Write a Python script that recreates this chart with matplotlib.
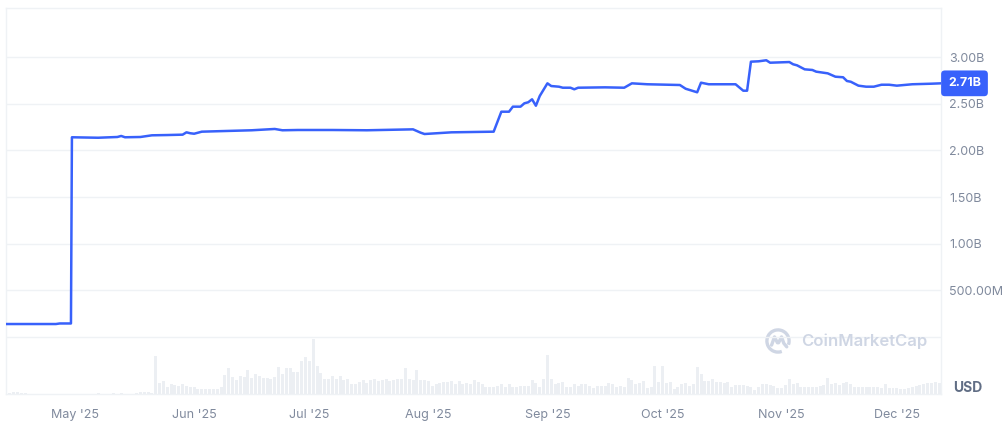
import numpy as np
import pandas as pd
import matplotlib
matplotlib.use("Agg")
import matplotlib.pyplot as plt
import matplotlib.dates as mdates
import matplotlib.transforms as mtransforms
from matplotlib.patches import Arc

plt.rcParams['font.family'] = ['Inter', 'DejaVu Sans']

########################
# Data (market cap in billions USD, daily volume in relative units)
########################

price_dates = [
    "2025-04-13", "2025-04-26", "2025-04-27", "2025-04-29 22:00", "2025-04-30 04:00",
    "2025-05-07", "2025-05-12", "2025-05-13", "2025-05-14", "2025-05-18", "2025-05-21",
    "2025-05-25", "2025-05-29", "2025-05-30", "2025-05-31", "2025-06-01", "2025-06-03",
    "2025-06-09", "2025-06-16", "2025-06-22", "2025-06-24", "2025-06-28", "2025-07-07",
    "2025-07-16", "2025-07-28", "2025-07-30", "2025-07-31", "2025-08-07", "2025-08-18",
    "2025-08-20", "2025-08-22", "2025-08-23", "2025-08-25", "2025-08-26", "2025-08-27",
    "2025-08-28", "2025-08-29", "2025-08-30", "2025-09-01", "2025-09-02", "2025-09-04",
    "2025-09-05", "2025-09-07", "2025-09-08", "2025-09-09", "2025-09-16", "2025-09-21",
    "2025-09-23", "2025-09-27", "2025-10-05 12:00", "2025-10-07", "2025-10-10", "2025-10-11",
    "2025-10-13", "2025-10-20", "2025-10-22", "2025-10-23", "2025-10-24", "2025-10-26",
    "2025-10-28", "2025-10-29", "2025-11-03", "2025-11-04", "2025-11-05", "2025-11-07",
    "2025-11-09", "2025-11-10", "2025-11-13", "2025-11-15", "2025-11-17", "2025-11-18",
    "2025-11-19", "2025-11-21", "2025-11-23", "2025-11-25", "2025-11-27", "2025-11-29",
    "2025-12-01", "2025-12-05", "2025-12-10", "2025-12-12 12:00",
]
price_vals = [
    0.139, 0.139, 0.145, 0.145, 2.140,
    2.135, 2.143, 2.154, 2.140, 2.143, 2.161,
    2.164, 2.168, 2.193, 2.183, 2.178, 2.200,
    2.207, 2.215, 2.229, 2.215, 2.218, 2.218,
    2.215, 2.225, 2.189, 2.175, 2.193, 2.200,
    2.414, 2.414, 2.468, 2.468, 2.504, 2.515,
    2.547, 2.478, 2.582, 2.718, 2.689, 2.682,
    2.671, 2.671, 2.654, 2.671, 2.675, 2.671,
    2.718, 2.708, 2.700, 2.660, 2.622, 2.725,
    2.708, 2.708, 2.639, 2.639, 2.950, 2.954,
    2.965, 2.939, 2.946, 2.922, 2.911, 2.868,
    2.861, 2.843, 2.825, 2.789, 2.783, 2.743,
    2.735, 2.693, 2.682, 2.682, 2.703, 2.703,
    2.693, 2.708, 2.714, 2.718,
]

volume_start = "2025-04-13"
volume = [
    0.5, 1, 2, 1.5, 1, 0.5, 0.2, 0.2, 0.2, 0.2, 0.2, 0.2, 0.2, 0.2, 0.2, 0.2, 0.2, 0.2,
    0.2, 0.2, 0.2, 0.2, 0.2, 0.2, 1, 0.3, 0.3, 0.3, 1, 0.3, 0.5, 0.3, 0.2, 0.3, 0.5,
    2, 2, 2, 0.5, 36.7,
    11, 12.3, 6.7, 10, 8.7, 7.7, 9.3, 8.3, 7.3, 7, 5, 5, 5, 5, 5, 5, 6.7, 18.3, 25, 17, 13.3,
    18, 17, 23.3, 16, 20, 17.3, 16, 16, 14.7, 17, 26, 20, 25, 25.7, 21.3, 21.3, 32.7, 36,
    32.7, 54.3, 27.3, 20.3, 15, 15, 17.3, 15, 17.7, 13.7, 14.3, 10, 9.3, 11.7,
    13.3, 11, 13.7, 15, 12.3, 14, 14.7, 13, 13.3, 15, 15, 25.3, 14.7, 13.7, 23, 13.7,
    13.7, 12.3, 7.7, 9.3, 10.7, 11.7, 11.7, 12.3, 10, 12.3, 10, 11, 10, 13.7, 11.7,
    10, 7, 7, 7, 8.3, 9.3, 7, 9.3, 7, 7, 8.3, 8.3, 8.3, 13.7, 10.3, 7, 15, 38.3, 15,
    9.3, 10.3, 11.7, 7, 7, 9.3, 8.3, 9.3, 9.3, 8.3, 6, 7.7,
    8.3, 8.3, 10.3, 9.3, 7, 7.7, 7, 16, 13.7, 9.3, 10.3, 12.3, 6, 7, 27.3, 11.3, 27.3,
    10.3, 11.7, 5.3, 7, 9.3, 10.3, 8.3, 10, 26.3, 19.3, 12.3, 12.3, 14.7, 11.7,
    11.7, 11, 12, 7, 9, 8.5, 9, 8, 7, 3.7, 7, 10, 9.5, 9, 8, 6, 6, 9, 14.3, 10, 10.5,
    7, 6.7, 7, 6.5, 7, 8, 9, 16, 10, 11, 9, 11, 11.5, 10, 7, 7, 6.7, 7, 6.5, 7, 7, 6,
    10, 6, 6, 5.7, 5, 4.7, 6, 7, 8, 9, 10, 10.3, 11, 12, 11,
]

ytick_vals = [0, 0.5, 1.0, 1.5, 2.0, 2.5, 3.0]
ytick_labels = ["", "500.00M", "1.00B", "1.50B", "2.00B", "2.50B", "3.00B"]
month_ticks = ["2025-05-01", "2025-06-01", "2025-07-01", "2025-08-01",
               "2025-09-01", "2025-10-01", "2025-11-01", "2025-12-01"]
month_labels = ["May '25", "Jun '25", "Jul '25", "Aug '25",
                "Sep '25", "Oct '25", "Nov '25", "Dec '25"]
last_label = "2.71B"

########################
# Plot
########################

W, H = 1003, 436
fig = plt.figure(figsize=(W / 100, H / 100), dpi=100)
fig.patch.set_facecolor("white")

left, right, top, bottom = 6, 941, 8, 394
ax = fig.add_axes([left / W, (H - bottom) / H, (right - left) / W, (bottom - top) / H])
ax2 = ax.twinx()
ax.set_zorder(ax2.get_zorder() + 1)
ax.patch.set_visible(False)

grid_c = "#eff2f5"
text_c = "#808a9d"
blue = "#3861fb"

# volume bars
vol_dates = pd.date_range(volume_start, periods=len(volume), freq="D")
ax2.bar(vol_dates, volume, width=0.78, color="#eceff3", linewidth=0)
ax2.set_ylim(0, max(volume) * (bottom - top) / 55.5)
ax2.set_yticks([])
for s in ax2.spines.values():
    s.set_visible(False)

# price line
pd_dates = pd.to_datetime(price_dates, format="mixed")
ax.plot(pd_dates, price_vals, color=blue, lw=1.8, solid_joinstyle="round", zorder=3)

ax.set_xlim(pd.Timestamp("2025-04-13"), pd.Timestamp("2025-12-12 12:00"))
ax.set_ylim(-(bottom - 337) / 93.33, (337 - top) / 93.33)

ax.yaxis.tick_right()
ax.set_yticks(ytick_vals)
ax.set_yticklabels(ytick_labels)
ax.tick_params(axis="y", length=0, pad=6, labelsize=9, labelcolor=text_c)
ax.grid(axis="y", color=grid_c, lw=1)
ax.set_axisbelow(True)

ax.set_xticks(pd.to_datetime(month_ticks))
ax.set_xticklabels(month_labels)
ax.tick_params(axis="x", length=0, pad=11, labelsize=9, labelcolor=text_c)

for s in ax.spines.values():
    s.set_color(grid_c)
    s.set_linewidth(1)

# current value tag
trans = mtransforms.blended_transform_factory(ax.transAxes, ax.transData)
ax.text(1.0 + 7 / (right - left), price_vals[-1], last_label, transform=trans,
        ha="left", va="center", color="white", fontsize=9, fontweight="bold",
        bbox=dict(boxstyle="round,pad=0.55,rounding_size=0.3", fc=blue, ec="none"),
        zorder=5, clip_on=False)

fig.text(968 / W, 1 - 388 / H, "USD", ha="center", va="center",
         fontsize=10, fontweight="bold", color="#616e85")

# watermark
wm_c = "#cfd6e4"
fig.text(801 / W, 1 - 341 / H, "CoinMarketCap", ha="left", va="center",
         fontsize=12, fontweight="semibold", color=wm_c)
lax = fig.add_axes([(778 - 14) / W, 1 - (341 + 14) / H, 28 / W, 28 / H])
lax.set_xlim(-1.2, 1.2)
lax.set_ylim(-1.2, 1.2)
lax.set_aspect("equal")
lax.axis("off")
lax.add_patch(Arc((0, 0), 1.9, 1.9, theta1=-20, theta2=290, color=wm_c, lw=2.4))
lax.plot([-0.55, -0.3, -0.05, 0.05, 0.3, 0.5, 0.75], [-0.35, 0.35, -0.15, -0.15, 0.35, -0.2, -0.5],
         color=wm_c, lw=2.4, solid_capstyle="round", solid_joinstyle="round")

fig.savefig("out.png", dpi=100)
